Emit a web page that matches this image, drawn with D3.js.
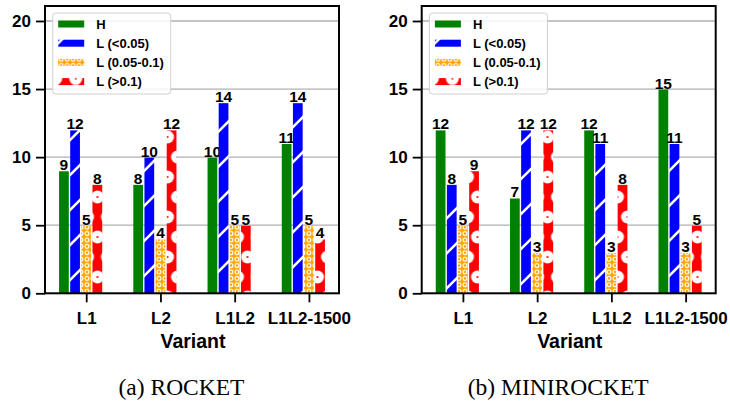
<!DOCTYPE html>
<html>
<head>
<meta charset="utf-8">
<script src="https://cdn.jsdelivr.net/npm/d3@7"></script>
<style>
  body { margin: 0; background: #fff; }
  svg text { font-family: "Liberation Sans", Arial, sans-serif; font-weight: bold; fill: #000; }
  .caption { font-family: "Liberation Serif", "Times New Roman", serif; font-weight: normal; }
</style>
</head>
<body>
<div id="chart"></div>
<script>
// data
const variants = ["L1", "L2", "L1L2", "L1L2-1500"];
const seriesNames = ["H", "L (<0.05)", "L (0.05-0.1)", "L (>0.1)"];
const yTicks = [0, 5, 10, 15, 20];

const rocketH = [9, 8, 10, 11];
const rocketLow = [12, 10, 14, 14];
const rocketMid = [5, 4, 5, 5];
const rocketHigh = [8, 12, 5, 4];

const miniH = [12, 7, 12, 15];
const miniLow = [8, 12, 11, 11];
const miniMid = [5, 3, 3, 3];
const miniHigh = [9, 12, 8, 5];

const fills = ["#008000", "url(#hatchBlue)", "url(#hatchOrange)", "url(#hatchRed)"];

let svg = d3.select("#chart").append("svg")
    .attr("width", 730)
    .attr("height", 402);

// hatch patterns, in page coordinates like matplotlib does it
let defs = svg.append("defs");

let pBlue = defs.append("pattern")
    .attr("id", "hatchBlue")
    .attr("patternUnits", "userSpaceOnUse")
    .attr("width", 35).attr("height", 35);
pBlue.append("rect").attr("width", 35).attr("height", 35).attr("fill", "#0000ff");
[[0, 35, 35, 0], [-5, 5, 5, -5], [30, 40, 40, 30]].forEach(l => {
    pBlue.append("line")
        .attr("x1", l[0]).attr("y1", l[1]).attr("x2", l[2]).attr("y2", l[3])
        .attr("stroke", "#fff").attr("stroke-width", 2.6);
});

let pOrange = defs.append("pattern")
    .attr("id", "hatchOrange")
    .attr("patternUnits", "userSpaceOnUse")
    .attr("width", 6).attr("height", 6.4);
pOrange.append("rect").attr("width", 6).attr("height", 6.4).attr("fill", "#ffa500");
pOrange.append("circle")
    .attr("cx", 3).attr("cy", 3.2).attr("r", 1.9)
    .attr("fill", "none").attr("stroke", "#fff").attr("stroke-width", 1.1);

let pRed = defs.append("pattern")
    .attr("id", "hatchRed")
    .attr("patternUnits", "userSpaceOnUse")
    .attr("x", 17.5).attr("y", 37)
    .attr("width", 20).attr("height", 40);
pRed.append("rect").attr("width", 20).attr("height", 40).attr("fill", "#ff0000");
[[0, 0], [20, 0], [0, 40], [20, 40], [10, 20]].forEach(c => {
    pRed.append("circle").attr("cx", c[0]).attr("cy", c[1]).attr("r", 6.5).attr("fill", "#fff");
    pRed.append("circle").attr("cx", c[0]).attr("cy", c[1]).attr("r", 1.1).attr("fill", "#ff0000");
});

function drawPanel(left, caption, series) {
    let width = 294, top = 6, bottom = 293.3;
    let g = svg.append("g");

    let x = d3.scaleLinear().domain([-0.555, 3.405]).range([left, left + width]);
    let y = d3.scaleLinear().domain([0, 21.1]).range([bottom, top]);
    let barW = x(0.15) - x(0);

    // grid
    g.selectAll(".grid")
        .data(yTicks.filter(d => d > 0))
        .join("line")
        .attr("x1", left).attr("x2", left + width)
        .attr("y1", d => y(d)).attr("y2", d => y(d))
        .attr("stroke", "#b0b0b0").attr("stroke-width", 1.3);

    // bars
    series.forEach((vals, k) => {
        let off = (k - 2) * 0.15;
        g.selectAll(".bar" + k)
            .data(vals)
            .join("rect")
            .attr("x", (d, i) => x(i + off) - barW / 2 + 0.7)
            .attr("y", d => y(d) + 0.5)
            .attr("width", barW - 1.4)
            .attr("height", d => y(0) - y(d) - 0.5)
            .attr("fill", fills[k]);

        g.selectAll(".lab" + k)
            .data(vals)
            .join("text")
            .attr("x", (d, i) => x(i + off))
            .attr("y", d => y(d) - 0.5)
            .attr("text-anchor", "middle")
            .style("font-size", "15.5px")
            .text(d => d);
    });

    // axes
    let yAxis = d3.axisLeft(y).tickValues(yTicks).tickSize(9).tickPadding(5);
    let ya = g.append("g").attr("transform", `translate(${left},0)`).call(yAxis);
    let xAxis = d3.axisBottom(x).tickValues([0, 1, 2, 3]).tickFormat(i => variants[i])
        .tickSize(9).tickPadding(9.5);
    let xa = g.append("g").attr("transform", `translate(0,${bottom})`).call(xAxis);
    [ya, xa].forEach(a => {
        a.select(".domain").remove();
        a.selectAll("line").attr("stroke", "#000").attr("stroke-width", 1.8);
        a.selectAll("text").style("font-size", "17px").attr("fill", "#000")
            .style("font-family", "'Liberation Sans', Arial, sans-serif").style("font-weight", "bold");
    });

    g.append("rect")
        .attr("x", left).attr("y", top)
        .attr("width", width).attr("height", bottom - top)
        .attr("fill", "none").attr("stroke", "#000").attr("stroke-width", 2);

    g.append("text")
        .attr("x", left + width / 2 + 1)
        .attr("y", 347.5)
        .attr("text-anchor", "middle")
        .style("font-size", "19.5px")
        .text("Variant");

    g.append("text")
        .attr("class", "caption")
        .attr("x", left + width / 2 - 10.5)
        .attr("y", 395)
        .attr("text-anchor", "middle")
        .style("font-size", "23.5px")
        .text(caption);

    // legend
    let lx = left + 7.7, ly = 13;
    g.append("rect")
        .attr("x", lx).attr("y", ly)
        .attr("width", 118).attr("height", 81)
        .attr("rx", 3)
        .attr("fill", "#fff").attr("fill-opacity", 0.85)
        .attr("stroke", "#d0d0d0").attr("stroke-width", 1);
    let items = g.selectAll(".leg")
        .data(seriesNames)
        .join("g")
        .attr("transform", (d, i) => `translate(${lx + 5.5},${ly + 11 + i * 19.2})`);
    items.append("rect")
        .attr("x", 0).attr("y", -3.5)
        .attr("width", 26).attr("height", 7)
        .attr("fill", (d, i) => fills[i]);
    items.append("text")
        .attr("x", 38).attr("y", 4.6)
        .style("font-size", "13px")
        .text(d => d);
}

drawPanel(45, "(a) ROCKET", [rocketH, rocketLow, rocketMid, rocketHigh]);
drawPanel(421.7, "(b) MINIROCKET", [miniH, miniLow, miniMid, miniHigh]);
</script>
</body>
</html>
